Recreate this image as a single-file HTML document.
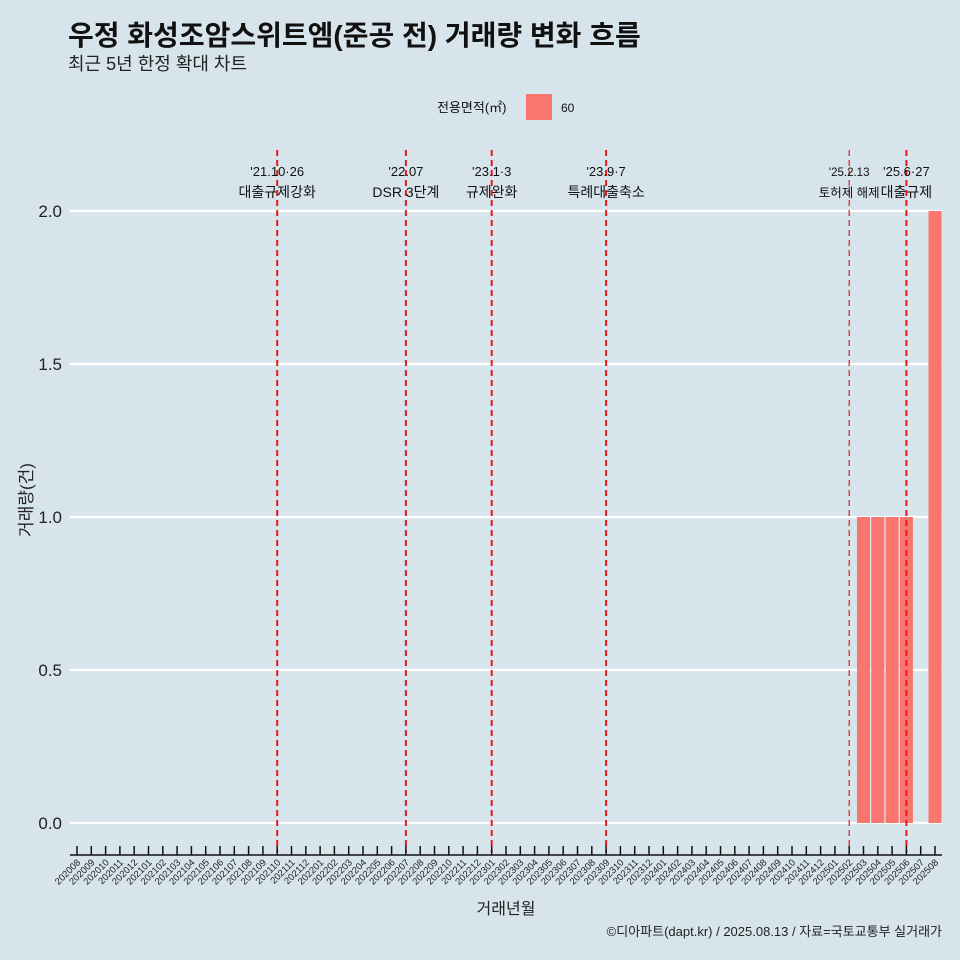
<!DOCTYPE html>
<html><head><meta charset="utf-8"><style>
body{margin:0;background:#d7e4ec;}
svg{display:block;font-family:"Liberation Sans","Noto Sans CJK KR",sans-serif;}
</style></head><body>
<svg id="c" width="960" height="960" viewBox="0 0 960 960">
<rect width="960" height="960" fill="#d7e4ec"/>
<text x="68" y="45" font-size="28" font-weight="bold" fill="#111">우정 화성조암스위트엠(준공 전) 거래량 변화 흐름</text>
<text x="68" y="70" font-size="18" fill="#222">최근 5년 한정 확대 차트</text>
<g>
<text x="437" y="112" font-size="13" fill="#111">전용면적(㎡)</text>
<rect x="526" y="94" width="26" height="26" fill="#f8766d"/>
<text x="561" y="112" font-size="12" fill="#111">60</text>
</g>
<g id="grid"></g><g id="bars"></g><g id="events"></g><g id="axis"></g>
<text x="32" y="500" font-size="17" fill="#222" transform="rotate(-90 32 500)" text-anchor="middle">거래량(건)</text>
<text x="506" y="914" font-size="16" fill="#222" text-anchor="middle">거래년월</text>
<text x="942" y="936" font-size="13" fill="#222" text-anchor="end">©디아파트(dapt.kr) / 2025.08.13 / 자료=국토교통부 실거래가</text>
</svg>
<script>
const categories=[];for(let y=2020;y<=2025;y++)for(let m=1;m<=12;m++){const k=y*100+m;if(k>=202008&&k<=202508)categories.push(String(k));}
const barMonths=["202503","202504","202505","202506","202508"];
const barValues=[1,1,1,1,2];
const yTicks=[0,0.5,1,1.5,2];
const yTickLabels=["0.0","0.5","1.0","1.5","2.0"];
const eventMonths=["202110","202207","202301","202309","202502","202506"];
const eventDates=["'21.10·26","'22.07","'23.1·3","'23.9·7","'25.2.13","'25.6·27"];
const eventLabels=["대출규제강화","DSR 3단계","규제완화","특례대출축소","토허제 해제","대출규제"];
const NS="http://www.w3.org/2000/svg";
const x0=77,step=(935-77)/60,y0=823,yScale=(823-211)/2;
const X=c=>x0+categories.indexOf(c)*step, Y=v=>y0-v*yScale;
function mk(t,a,p){const e=document.createElementNS(NS,t);for(const k in a)e.setAttribute(k,a[k]);p.appendChild(e);return e;}
const grid=document.getElementById('grid'),bars=document.getElementById('bars'),ev=document.getElementById('events'),ax=document.getElementById('axis');
yTicks.forEach((v,i)=>{const l=mk('line',{x1:70,x2:942,y1:Y(v),y2:Y(v),stroke:'#fff','stroke-width':2.2},grid);


const t=mk('text',{x:62,y:Y(v)+6,'font-size':17,'text-anchor':'end',fill:'#222'},grid);t.textContent=yTickLabels[i];

});
barMonths.forEach((c,i)=>{const r=mk('rect',{x:X(c)-6.5,width:13,y:Y(barValues[i]),height:Y(0)-Y(barValues[i]),fill:'#f8766d'},bars);

});
eventMonths.forEach((c,i)=>{const x=X(c);const thin=c==="202502";
const l=mk('line',{x1:x,x2:x,y1:150,y2:852,stroke:'#e41a1c','stroke-width':thin?1.2:2,'stroke-dasharray':'6,4'},ev);


const fs=thin?11.5:13;
const t1=mk('text',{x:x,y:176,'font-size':fs,'text-anchor':'middle',fill:'#111'},ev);t1.textContent=eventDates[i];


const t2=mk('text',{x:x,y:197,'font-size':fs+1,'text-anchor':'middle',fill:'#111'},ev);t2.textContent=eventLabels[i];

});
const al=mk('line',{x1:70,x2:942,y1:855,y2:855,stroke:'#111','stroke-width':1.5},ax);


categories.forEach(c=>{const x=X(c);mk('line',{x1:x,x2:x,y1:846,y2:855,stroke:'#111','stroke-width':1.5},ax);
const t=mk('text',{x:x+4,y:863,'font-size':9.5,'text-anchor':'end',fill:'#222',transform:`rotate(-45 ${x+4} 863)`},ax);t.textContent=c;

});
</script>
</body></html>
